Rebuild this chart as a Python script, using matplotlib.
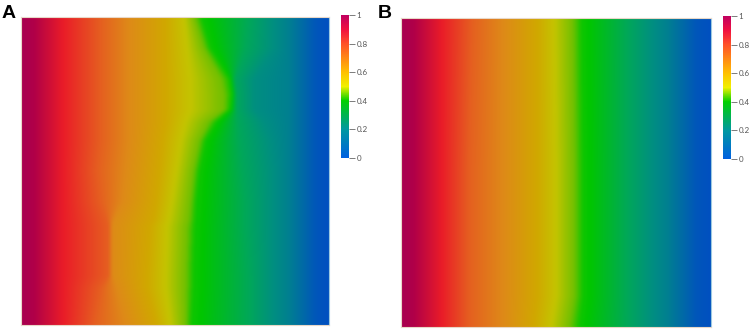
"""Two potential fields side by side, each with its own colorbar."""
import matplotlib
matplotlib.use("Agg")
import matplotlib.pyplot as plt
from matplotlib.colors import LinearSegmentedColormap, Normalize
from matplotlib.cm import ScalarMappable
import numpy as np

W, H = 754, 330

levels = [1.0, 0.97, 0.88, 0.78, 0.68, 0.58, 0.52, 0.45, 0.42, 0.30, 0.22, 0.17, 0.05, 0.0]

rows_a = [0.0, 0.10, 0.20, 0.25, 0.30, 0.34, 0.40, 0.50, 0.60, 0.66, 0.68, 0.84, 0.88, 1.0]
contours_a = [
    [0, .04, .135, .26, .35, .47, .53, .565, .586, .74, .82, .87, .96, 1],
    [0, .04, .135, .26, .35, .47, .54, .595, .615, .73, .82, .87, .96, 1],
    [0, .04, .135, .26, .35, .47, .55, .65, .678, .695, .76, .87, .96, 1],
    [0, .04, .135, .26, .35, .47, .55, .66, .685, .70, .76, .87, .96, 1],
    [0, .04, .135, .26, .35, .47, .55, .66, .68, .70, .76, .87, .96, 1],
    [0, .04, .135, .26, .35, .47, .535, .61, .635, .705, .79, .87, .96, 1],
    [0, .04, .135, .26, .35, .46, .52, .58, .60, .71, .81, .87, .96, 1],
    [0, .04, .135, .25, .34, .45, .505, .56, .58, .72, .82, .87, .96, 1],
    [0, .04, .135, .26, .33, .44, .49, .55, .57, .73, .82, .87, .96, 1],
    [0, .04, .135, .28, .30, .43, .48, .545, .567, .73, .82, .87, .96, 1],
    [0, .04, .135, .285, .295, .42, .475, .54, .565, .73, .82, .87, .96, 1],
    [0, .04, .135, .285, .295, .41, .47, .535, .56, .74, .82, .87, .96, 1],
    [0, .04, .135, .26, .31, .41, .47, .535, .56, .74, .82, .87, .96, 1],
    [0, .04, .135, .24, .34, .44, .485, .535, .553, .74, .82, .87, .96, 1],
]

rows_b = [0.0, 0.50, 0.90, 1.0]
contours_b = [
    [0, .04, .13, .23, .33, .44, .495, .555, .582, .73, .81, .86, .955, 1],
    [0, .04, .13, .22, .33, .44, .50, .56, .587, .73, .81, .86, .955, 1],
    [0, .04, .13, .22, .33, .44, .50, .56, .587, .73, .81, .86, .955, 1],
    [0, .04, .13, .22, .33, .43, .485, .545, .575, .73, .81, .86, .955, 1],
]

field_stops = [(0.0, "#0050c0"), (0.05, "#0056ba"), (0.17, "#008090"), (0.22, "#008f80"),
               (0.30, "#00a858"), (0.40, "#00c600"), (0.42, "#10c600"), (0.45, "#70c000"),
               (0.52, "#c4c400"), (0.58, "#d0a800"), (0.68, "#de8a18"), (0.78, "#e56020"),
               (0.88, "#ea1c28"), (0.97, "#b00048"), (1.0, "#a80050")]
bar_stops = [(0.0, "#0060e0"), (0.2, "#0098a0"), (0.4, "#00d000"), (0.5, "#f0f000"),
             (0.6, "#ffc000"), (0.8, "#ff5028"), (0.9, "#f01040"), (1.0, "#c00060")]
bar_ticks = [0, 0.2, 0.4, 0.6, 0.8, 1]
bar_labels = ["0", "0.2", "0.4", "0.6", "0.8", "1"]

field_cmap = LinearSegmentedColormap.from_list("field", field_stops, N=512)
bar_cmap = LinearSegmentedColormap.from_list("bar", bar_stops, N=512)


def px_axes(fig, x0, y0, x1, y1):
    return fig.add_axes([x0 / W, 1 - y1 / H, (x1 - x0) / W, (y1 - y0) / H])


def blur(rgb, k=5):
    # the source image is a soft upscale, so smear the colours a little
    kernel = np.ones(k) / k
    pad = k // 2
    for axis in (0, 1):
        padded = np.pad(rgb, [(pad, pad) if a == axis else (0, 0) for a in range(3)], mode="edge")
        rgb = np.apply_along_axis(lambda m: np.convolve(m, kernel, mode="valid"), axis, padded)
    return rgb


def build_field(rows, contours, n=310):
    contours = np.array(contours)
    ys = np.linspace(0, 1, n)
    xs = np.linspace(0, 1, n)
    field = np.zeros((n, n))
    for i, y in enumerate(ys):
        pos = [np.interp(y, rows, contours[:, j]) for j in range(contours.shape[1])]
        field[i] = np.interp(xs, pos, levels)
    return field


def draw_panel(fig, box, bar_box, rows, contours, letter, letter_x, letter_y):
    ax = px_axes(fig, *box)
    rgb = blur(field_cmap(build_field(rows, contours))[:, :, :3])
    ax.imshow(np.clip(rgb, 0, 1), extent=[0, 1, 1, 0], aspect="auto", interpolation="bilinear")
    ax.set_xticks([])
    ax.set_yticks([])
    for side, spine in ax.spines.items():
        spine.set_linewidth(0.8)
        spine.set_color("#9cc8e0" if side == "right" else "#e8d8c8")

    cax = px_axes(fig, *bar_box)
    cb = fig.colorbar(ScalarMappable(Normalize(0, 1), bar_cmap), cax=cax, ticks=bar_ticks)
    cb.set_ticklabels(bar_labels)
    cb.outline.set_visible(False)
    cax.tick_params(length=4, width=0.6, color="#666666", labelsize=5.8,
                    labelcolor="#555555", pad=1.5)

    fig.text(letter_x / W, 1 - letter_y / H, letter, fontsize=14, fontweight="bold",
             family="Liberation Sans", color="black", ha="left", va="baseline")


plt.rcParams["font.family"] = "Lato"
fig = plt.figure(figsize=(W / 100, H / 100), dpi=100)
draw_panel(fig, (21, 17, 329, 325), (341, 15, 349, 158), rows_a, contours_a, "A", 2, 18)
draw_panel(fig, (401, 18, 711, 327), (723, 16, 731, 159), rows_b, contours_b, "B", 378, 18)
fig.savefig("out.png", dpi=100)
plt.close(fig)
